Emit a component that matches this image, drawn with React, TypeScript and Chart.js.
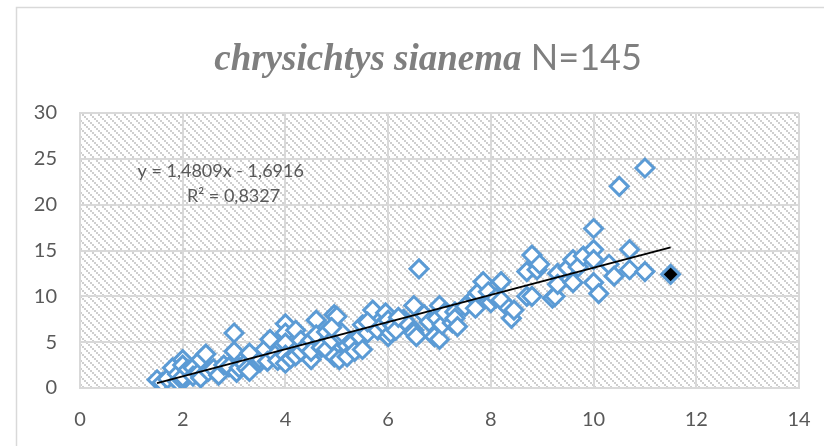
import React, { useEffect, useRef } from "react";
import { Chart, registerables } from "chart.js";

Chart.register(...registerables);

// ---- data ----
const X_VALUES = [
  1.5, 1.6, 1.7, 1.8, 1.9, 1.9, 2.0, 2.0, 2.0, 2.0, 2.1, 2.2, 2.2, 2.3, 2.35, 2.35, 2.45, 2.5, 2.6, 2.7,
  2.8, 2.9, 3.0, 3.0, 3.05, 3.1, 3.2, 3.25, 3.3, 3.4, 3.5, 3.5, 3.6, 3.65, 3.7, 3.8, 3.85, 4.0, 4.0, 4.0,
  4.0, 4.0, 4.1, 4.2, 4.2, 4.3, 4.3, 4.4, 4.5, 4.5, 4.5, 4.6, 4.6, 4.7, 4.8, 4.8, 4.9, 4.95, 4.95, 5.0,
  5.0, 5.05, 5.1, 5.1, 5.2, 5.2, 5.3, 5.35, 5.45, 5.5, 5.5, 5.6, 5.7, 5.8, 5.9, 5.95, 6.0, 6.0, 6.05, 6.1,
  6.15, 6.3, 6.4, 6.5, 6.5, 6.5, 6.55, 6.6, 6.7, 6.8, 6.9, 6.95, 7.0, 7.0, 7.05, 7.1, 7.25, 7.3, 7.3, 7.35,
  7.5, 7.7, 7.7, 7.75, 7.85, 7.95, 8.0, 8.1, 8.2, 8.2, 8.35, 8.4, 8.45, 8.7, 8.7, 8.8, 8.8, 8.9, 8.95, 9.2,
  9.25, 9.3, 9.3, 9.5, 9.6, 9.6, 9.7, 9.8, 10.0, 10.0, 10.0, 10.0, 10.1, 10.3, 10.4, 10.5, 10.7, 10.7, 11.0, 11.0,
  6.2, 5.6, 4.9, 3.3,
];
const Y_VALUES = [
  0.9, 0.6, 1.0, 2.2, 0.7, 1.5, 3.1, 2.5, 0.8, 1.2, 2.0, 2.2, 1.3, 1.6, 3.1, 1.1, 3.7, 1.8, 2.1, 1.4,
  2.5, 2.3, 6.0, 4.0, 1.7, 2.2, 2.6, 2.1, 1.8, 3.3, 2.8, 3.2, 4.2, 2.9, 5.3, 3.6, 3.0, 7.0, 6.0, 4.9,
  3.6, 2.7, 3.2, 6.3, 3.5, 5.2, 4.0, 4.5, 5.2, 3.1, 4.0, 7.4, 5.8, 4.4, 6.1, 4.2, 5.2, 8.0, 3.4, 6.3,
  7.8, 3.1, 5.5, 6.0, 4.6, 3.4, 4.9, 4.0, 5.6, 6.9, 4.2, 6.0, 8.5, 6.3, 7.0, 8.2, 7.4, 5.6, 6.0, 6.8,
  6.3, 7.5, 6.9, 6.3, 9.0, 6.0, 5.6, 13.0, 8.0, 7.2, 5.6, 7.6, 9.0, 5.3, 6.9, 8.2, 7.1, 8.3, 7.6, 6.7,
  8.9, 10.0, 8.7, 10.4, 11.6, 10.5, 9.3, 9.8, 11.6, 9.6, 8.7, 7.6, 8.5, 12.7, 10.0, 14.5, 10.0, 12.9, 13.5, 9.8,
  10.0, 12.5, 11.3, 13.1, 14.0, 11.5, 13.2, 14.4, 17.4, 15.1, 14.0, 11.5, 10.3, 13.5, 12.2, 22.0, 15.1, 12.9, 24.0, 12.7,
  7.7, 7.2, 6.6, 3.8,
];
const HIGHLIGHT_X = [11.5];
const HIGHLIGHT_Y = [12.4];

const TREND_SLOPE = 1.4809;
const TREND_INTERCEPT = -1.6916;
const TREND_X = [1.5, 11.5];
const EQUATION_TEXT = "y = 1,4809x - 1,6916";
const R2_TEXT = "R² = 0,8327";

const TITLE_ITALIC = "chrysichtys sianema ";
const TITLE_PLAIN = "N=145";

const X_TICKS = { min: 0, max: 14, step: 2 };
const Y_TICKS = { min: 0, max: 30, step: 5 };

const BLUE = "#5B9BD5";
const GRID = "#d9d9d9";
const TEXT = "#595959";

function makePattern(ctx: CanvasRenderingContext2D) {
  const c = document.createElement("canvas");
  c.width = 8;
  c.height = 8;
  const p = c.getContext("2d")!;
  p.fillStyle = "#ffffff";
  p.fillRect(0, 0, 8, 8);
  p.fillStyle = "#cfcfcf";
  for (let by = 0; by < 4; by++) {
    for (let bx = 0; bx < 4; bx++) {
      if ((((bx - by) % 4) + 4) % 4 === 0) p.fillRect(bx * 2, by * 2, 2, 2);
    }
  }
  return ctx.createPattern(c, "repeat");
}

const decorPlugin = {
  id: "decor",
  beforeDraw(chart: any) {
    const { ctx, chartArea: a } = chart;
    ctx.save();
    ctx.fillStyle = "#ffffff";
    ctx.fillRect(0, 0, chart.width, chart.height);
    ctx.strokeStyle = GRID;
    ctx.lineWidth = 1.5;
    ctx.beginPath();
    ctx.moveTo(16.5, chart.height + 2);
    ctx.lineTo(16.5, 7.5);
    ctx.lineTo(chart.width + 2, 7.5);
    ctx.stroke();
    const pat = makePattern(ctx);
    if (pat) {
      ctx.fillStyle = pat;
      ctx.fillRect(a.left, a.top, a.right - a.left, a.bottom - a.top);
    }
    ctx.restore();
  },
  afterDraw(chart: any) {
    const { ctx } = chart;
    ctx.save();
    // title
    const center = (16 + 840) / 2;
    ctx.textBaseline = "alphabetic";
    ctx.textAlign = "left";
    ctx.font = 'italic bold 37px "Liberation Serif"';
    const w1 = ctx.measureText(TITLE_ITALIC).width;
    ctx.font = "36px Lato";
    const w2 = ctx.measureText(TITLE_PLAIN).width;
    const start = center - (w1 + w2) / 2;
    ctx.fillStyle = "#7f7f7f";
    ctx.font = 'italic bold 37px "Liberation Serif"';
    ctx.fillText(TITLE_ITALIC, start, 70);
    ctx.font = "36px Lato";
    ctx.fillText(TITLE_PLAIN, start + w1, 70);
    // trendline label
    const xs = chart.scales.x;
    const ys = chart.scales.y;
    ctx.fillStyle = TEXT;
    ctx.font = "18px Lato";
    ctx.textBaseline = "middle";
    ctx.textAlign = "center";
    ctx.fillText(EQUATION_TEXT, xs.getPixelForValue(2.74), ys.getPixelForValue(23.7));
    ctx.fillText(R2_TEXT, xs.getPixelForValue(2.99), ys.getPixelForValue(20.9));
    ctx.restore();
  },
};

export default function App() {
  const ref = useRef<HTMLCanvasElement>(null);
  useEffect(() => {
    if (!ref.current) return;
    const points = X_VALUES.map((x, i) => ({ x, y: Y_VALUES[i] }));
    const hi = HIGHLIGHT_X.map((x, i) => ({ x, y: HIGHLIGHT_Y[i] }));
    const trend = TREND_X.map((x) => ({ x, y: TREND_SLOPE * x + TREND_INTERCEPT }));
    const tickFont = { family: "Lato", size: 20 };
    const chart = new Chart(ref.current, {
      type: "scatter",
      data: {
        datasets: [
          {
            data: trend,
            showLine: true,
            borderColor: "#000000",
            borderWidth: 2,
            pointRadius: 0,
            order: 0,
          },
          {
            data: hi,
            pointStyle: "rectRot",
            pointRadius: 9,
            pointBorderWidth: 3,
            pointBorderColor: BLUE,
            pointBackgroundColor: "#000000",
            order: 1,
          },
          {
            data: points,
            pointStyle: "rectRot",
            pointRadius: 9,
            pointBorderWidth: 3,
            pointBorderColor: BLUE,
            pointBackgroundColor: "#ffffff",
            order: 2,
          },
        ],
      },
      options: {
        animation: false,
        responsive: false,
        devicePixelRatio: 1,
        layout: { padding: { left: 30, top: 113, right: 25, bottom: 18 } },
        plugins: { legend: { display: false }, tooltip: { enabled: false }, title: { display: false } },
        scales: {
          x: {
            type: "linear",
            min: X_TICKS.min,
            max: X_TICKS.max,
            ticks: { stepSize: X_TICKS.step, padding: 3, color: TEXT, font: tickFont },
            grid: {
              color: GRID,
              lineWidth: 2,
              drawTicks: true,
              tickLength: 17,
              tickColor: "rgba(0,0,0,0)",
            },
            border: { display: true, color: GRID, width: 2 },
            afterFit: (s: any) => {
              s.height = 40;
            },
          },
          y: {
            type: "linear",
            min: Y_TICKS.min,
            max: Y_TICKS.max,
            ticks: { stepSize: Y_TICKS.step, padding: 3, color: TEXT, font: tickFont },
            grid: {
              color: GRID,
              lineWidth: 2,
              drawTicks: true,
              tickLength: 20,
              tickColor: "rgba(0,0,0,0)",
            },
            border: { display: true, color: GRID, width: 2 },
            afterFit: (s: any) => {
              s.width = 50;
            },
          },
        },
      },
      plugins: [decorPlugin],
    } as any);
    return () => chart.destroy();
  }, []);
  return (
    <div style={{ position: "absolute", left: 0, top: 0, width: 824, height: 446 }}>
      <canvas ref={ref} width={824} height={446} />
    </div>
  );
}
